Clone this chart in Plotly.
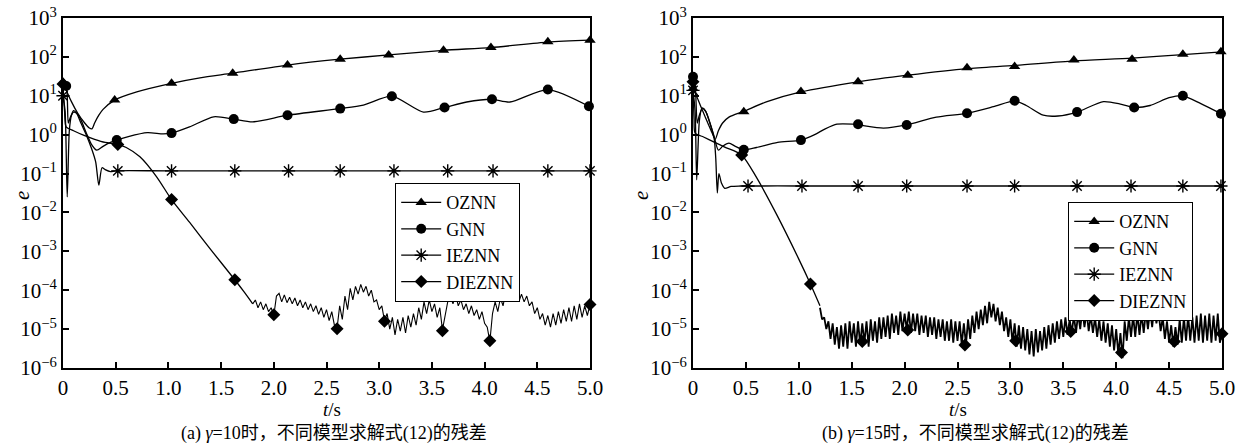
import plotly.graph_objects as go

W, H = 1247, 443

# ---------------- panel (a): gamma = 10  (values are log10(e)) ----------------
a_oznn_t = [0, 0.03, 0.08, 0.14, 0.2, 0.25, 0.275, 0.3, 0.34, 0.38, 0.49, 0.7, 1.03, 1.3, 1.61, 2.13, 2.63, 3.09, 3.61, 4.06, 4.6, 5.0]
a_oznn_v = [1.35, 1.15, 0.85, 0.55, 0.32, 0.17, 0.15, 0.3, 0.5, 0.65, 0.89, 1.1, 1.32, 1.46, 1.58, 1.79, 1.94, 2.05, 2.17, 2.24, 2.38, 2.43]
a_oznn_mt = [0, 0.49, 1.03, 1.61, 2.13, 2.63, 3.09, 3.61, 4.06, 4.60, 5.0]
a_oznn_mv = [1.35, 0.89, 1.32, 1.58, 1.79, 1.94, 2.05, 2.17, 2.24, 2.39, 2.43]

a_gnn_t = [0, 0.03, 0.05, 0.07, 0.1, 0.13, 0.17, 0.22, 0.27, 0.32, 0.38, 0.45, 0.51, 0.62, 0.8, 0.95, 1.03, 1.2, 1.43, 1.62, 1.8, 2.13, 2.63, 2.85, 3.12, 3.42, 3.62, 3.83, 4.07, 4.24, 4.6, 4.99]
a_gnn_v = [1.3, 1.25, 0.3, 0.45, 0.58, 0.55, 0.38, 0.05, -0.25, -0.4, -0.3, -0.2, -0.14, -0.05, 0.05, 0.02, 0.04, 0.2, 0.46, 0.4, 0.33, 0.5, 0.67, 0.76, 0.99, 0.58, 0.70, 0.84, 0.91, 0.84, 1.16, 0.73]
a_gnn_mt = [0.03, 0.51, 1.03, 1.62, 2.13, 2.63, 3.12, 3.62, 4.07, 4.6, 4.99]
a_gnn_mv = [1.25, -0.14, 0.04, 0.4, 0.5, 0.67, 0.99, 0.70, 0.91, 1.16, 0.73]

a_ie_t = [0, 0.02, 0.04, 0.06, 0.08, 0.1, 0.13, 0.17, 0.22, 0.27, 0.31, 0.34, 0.37, 0.4, 0.45, 0.5, 1.0, 5.0]
a_ie_v = [1.0, 0.6, -1.6, 0.1, 0.5, 0.62, 0.55, 0.3, 0.0, -0.35, -0.7, -1.3, -0.85, -0.9, -0.95, -0.93, -0.93, -0.93]
a_ie_mt = [0, 0.52, 1.03, 1.63, 2.14, 2.63, 3.14, 3.65, 4.08, 4.60, 5.0]
a_ie_mv = [1.0, -0.93, -0.93, -0.93, -0.93, -0.93, -0.93, -0.93, -0.93, -0.93, -0.93]

a_die_t = [0, 0.015, 0.03, 0.1, 0.2, 0.3, 0.4, 0.52, 0.6, 0.73, 0.89, 1.03, 1.2, 1.4, 1.63, 1.72, 1.8]
a_die_v = [1.3, 0.6, 0.2, 0.1, -0.02, -0.12, -0.2, -0.25, -0.33, -0.57, -1.09, -1.67, -2.25, -2.95, -3.73, -4.05, -4.35]
a_die_tail_t0, a_die_tail_dt = 1.8, 0.025
a_die_tail_v = [
    -4.35, -4.25, -4.45, -4.3, -4.5, -4.35, -4.55, -4.45,
    -4.65, -4.15, -4.08, -4.3, -4.12, -4.32, -4.18, -4.35,
    -4.2, -4.4, -4.25, -4.45, -4.3, -4.5, -4.35, -4.55,
    -4.4, -4.62, -4.45, -4.7, -4.5, -4.78, -4.55, -4.9,
    -4.98, -4.4, -4.75, -4.15, -4.5, -3.95, -4.25, -3.9,
    -4.1, -3.85, -4.05, -3.9, -4.15, -4.0, -4.3, -4.25,
    -4.5, -4.4, -4.78, -4.6, -5.0, -4.7, -5.15, -4.75,
    -5.05, -4.7, -5.1, -4.65, -4.95, -4.6, -4.9, -4.45,
    -4.75, -4.3, -4.6, -4.25, -4.55, -4.35, -4.7, -4.45,
    -5.02, -4.6, -4.3, -4.15, -4.35, -4.1, -4.4, -4.25,
    -4.5, -4.35, -4.6, -4.4, -4.65, -4.5, -4.75, -4.55,
    -4.85, -4.95, -5.32, -4.6, -4.3, -4.55, -4.2, -4.4,
    -4.05, -4.3, -4.0, -4.25, -4.05, -4.3, -4.1, -4.3,
    -4.15, -4.4, -4.3, -4.6, -4.45, -4.75, -4.6, -4.9,
    -4.65, -4.95, -4.6, -4.9, -4.55, -4.85, -4.5, -4.8,
    -4.45, -4.8, -4.4, -4.75, -4.35, -4.7, -4.4, -4.65,
    -4.37]
a_die_mt = [0, 0.52, 1.03, 1.63, 2.0, 2.6, 3.05, 3.6, 4.05, 5.0]
a_die_mv = [1.3, -0.25, -1.67, -3.73, -4.63, -4.99, -4.8, -5.04, -5.3, -4.37]

# ---------------- panel (b): gamma = 15 ----------------
b_oznn_t = [0, 0.04, 0.09, 0.14, 0.18, 0.21, 0.24, 0.28, 0.34, 0.48, 0.7, 1.02, 1.56, 2.03, 2.59, 3.04, 3.6, 4.15, 4.63, 5.0]
b_oznn_v = [1.19, 0.95, 0.62, 0.3, 0.05, -0.12, 0.1, 0.3, 0.45, 0.6, 0.85, 1.1, 1.36, 1.53, 1.7, 1.78, 1.9, 1.97, 2.06, 2.13]
b_oznn_mt = [0, 0.48, 1.02, 1.56, 2.03, 2.59, 3.04, 3.6, 4.15, 4.63, 4.99]
b_oznn_mv = [1.19, 0.59, 1.11, 1.36, 1.53, 1.72, 1.75, 1.92, 1.94, 2.07, 2.13]

b_gnn_t = [0, 0.02, 0.04, 0.06, 0.09, 0.12, 0.16, 0.2, 0.24, 0.28, 0.34, 0.4, 0.48, 0.6, 0.8, 1.02, 1.15, 1.25, 1.36, 1.51, 1.8, 2.02, 2.3, 2.59, 2.84, 3.04, 3.15, 3.31, 3.45, 3.63, 3.88, 4.05, 4.17, 4.32, 4.5, 4.63, 4.8, 4.99]
b_gnn_v = [1.49, 1.3, 0.3, 0.5, 0.68, 0.6, 0.3, -0.05, -0.4, -0.3, -0.22, -0.3, -0.39, -0.33, -0.2, -0.14, 0.0, 0.15, 0.27, 0.27, 0.17, 0.25, 0.45, 0.55, 0.72, 0.87, 0.75, 0.5, 0.48, 0.58, 0.85, 0.78, 0.70, 0.75, 0.95, 1.0, 0.8, 0.54]
b_gnn_mt = [0, 0.48, 1.02, 1.56, 2.02, 2.59, 3.04, 3.63, 4.17, 4.63, 4.99]
b_gnn_mv = [1.49, -0.39, -0.14, 0.27, 0.25, 0.55, 0.87, 0.58, 0.70, 1.0, 0.54]

b_ie_t = [0, 0.02, 0.035, 0.06, 0.085, 0.12, 0.16, 0.2, 0.215, 0.23, 0.245, 0.27, 0.3, 0.36, 0.45, 1.0, 5.0]
b_ie_v = [1.14, 0.6, -1.16, 0.35, 0.68, 0.6, 0.3, -0.1, -0.6, -1.5, -1.0, -1.25, -1.38, -1.33, -1.32, -1.32, -1.32]
b_ie_mt = [0, 0.52, 1.03, 1.56, 2.02, 2.59, 3.04, 3.63, 4.14, 4.63, 4.99]
b_ie_mv = [1.14, -1.32, -1.32, -1.32, -1.32, -1.32, -1.32, -1.32, -1.32, -1.32, -1.32]

b_die_t = [0, 0.01, 0.02, 0.1, 0.2, 0.3, 0.46, 0.6, 0.79, 1.0, 1.11, 1.2]
b_die_v = [1.36, 0.4, 0.04, -0.06, -0.19, -0.32, -0.52, -1.1, -2.05, -3.2, -3.84, -4.4]
b_die_tail_t0, b_die_tail_dt = 1.2, 0.02
b_die_tail_v = [
    -4.45, -4.75, -4.7, -5.0, -4.8, -5.25, -4.85, -5.4, -4.95, -5.5,
    -4.9, -5.45, -4.85, -5.5, -4.8, -5.35, -4.85, -5.45, -4.8, -5.4,
    -4.85, -5.35, -4.8, -5.45, -4.75, -5.3, -4.8, -5.35, -4.7, -5.25,
    -4.7, -5.2, -4.65, -5.25, -4.6, -5.1, -4.65, -5.15, -4.55, -5.05,
    -4.6, -5.0, -4.55, -5.1, -4.6, -5.05, -4.6, -5.15, -4.65, -5.1,
    -4.65, -5.2, -4.7, -5.15, -4.7, -5.25, -4.75, -5.2, -4.75, -5.3,
    -4.8, -5.3, -4.75, -5.35, -4.8, -5.3, -4.8, -5.4, -4.85, -5.4,
    -4.75, -5.25, -4.65, -5.1, -4.55, -5.0, -4.5, -4.9, -4.4, -4.85,
    -4.3, -4.7, -4.35, -4.8, -4.45, -4.9, -4.55, -5.05, -4.7, -5.2,
    -4.75, -5.35, -4.85, -5.45, -4.9, -5.5, -4.95, -5.55, -5.0, -5.65,
    -5.05, -5.7, -5.0, -5.6, -5.05, -5.55, -4.95, -5.5, -4.9, -5.4,
    -4.85, -5.35, -4.8, -5.25, -4.75, -5.2, -4.7, -5.15, -4.75, -5.1,
    -4.65, -5.1, -4.6, -5.0, -4.5, -4.95, -4.55, -5.05, -4.65, -5.1,
    -4.7, -5.2, -4.75, -5.3, -4.8, -5.35, -4.85, -5.45, -4.9, -5.55,
    -5.0, -5.65, -5.1, -5.75, -4.8, -5.3, -4.7, -5.2, -4.65, -5.2,
    -4.6, -5.15, -4.6, -5.1, -4.55, -5.0, -4.5, -4.95, -4.4, -4.85,
    -4.55, -5.05, -4.7, -5.25, -4.8, -5.35, -4.9, -5.45, -4.95, -5.4,
    -4.75, -5.35, -4.7, -5.3, -4.65, -5.3, -4.7, -5.35, -4.65, -5.3,
    -4.6, -5.35, -4.65, -5.3, -4.6, -5.35, -4.65, -5.3, -4.6, -5.35, -5.12]
b_die_mt = [0, 0.46, 1.11, 1.6, 2.03, 2.57, 3.05, 3.57, 4.05, 4.55, 5.0]
b_die_mv = [1.36, -0.52, -3.84, -5.32, -5.02, -5.41, -5.3, -5.06, -5.6, -5.32, -5.12]

x_ticks = [0, 0.5, 1.0, 1.5, 2.0, 2.5, 3.0, 3.5, 4.0, 4.5, 5.0]
x_tick_text = ["0", "0.5", "1.0", "1.5", "2.0", "2.5", "3.0", "3.5", "4.0", "4.5", "5.0"]
y_exps = [3, 2, 1, 0, -1, -2, -3, -4, -5, -6]
names = ["OZNN", "GNN", "IEZNN", "DIEZNN"]

# ---------------- styles ----------------
SERIF = "Liberation Serif"
CAPFONT = "Liberation Serif, Noto Sans CJK SC"
LW = 1.3
SYMS = {
    "OZNN": dict(symbol="triangle-up", size=10, color="black"),
    "GNN": dict(symbol="circle", size=10, color="black"),
    "IEZNN": dict(symbol="asterisk-open", size=11, color="black", line=dict(color="black", width=1.4)),
    "DIEZNN": dict(symbol="diamond", size=10, color="black"),
}


def pw(vals):
    return [10 ** v for v in vals]


fig = go.Figure()


def add_panel(xa, ya, leg, series, tail_width):
    for name, (lt, lv, mt, mv, tail) in series.items():
        fig.add_trace(go.Scatter(x=lt, y=pw(lv), mode="lines", xaxis=xa, yaxis=ya,
                                 line=dict(color="black", width=LW, shape="spline", smoothing=0.7),
                                 showlegend=False, hoverinfo="skip"))
        if tail is not None:
            t0, dt, tv = tail
            tt = [round(t0 + dt * i, 4) for i in range(len(tv))]
            fig.add_trace(go.Scatter(x=tt, y=pw(tv), mode="lines", xaxis=xa, yaxis=ya,
                                     line=dict(color="black", width=tail_width),
                                     showlegend=False, hoverinfo="skip"))
        fig.add_trace(go.Scatter(x=mt, y=pw(mv), mode="markers", xaxis=xa, yaxis=ya,
                                 marker=SYMS[name], cliponaxis=False,
                                 showlegend=False, hoverinfo="skip"))
        fig.add_trace(go.Scatter(x=[None], y=[None], mode="lines+markers", xaxis=xa, yaxis=ya,
                                 line=dict(color="black", width=LW), marker=SYMS[name],
                                 name=name, legend=leg, showlegend=True))


add_panel("x", "y", "legend", {
    "OZNN": (a_oznn_t, a_oznn_v, a_oznn_mt, a_oznn_mv, None),
    "GNN": (a_gnn_t, a_gnn_v, a_gnn_mt, a_gnn_mv, None),
    "IEZNN": (a_ie_t, a_ie_v, a_ie_mt, a_ie_mv, None),
    "DIEZNN": (a_die_t, a_die_v, a_die_mt, a_die_mv, (a_die_tail_t0, a_die_tail_dt, a_die_tail_v)),
}, 1.1)
add_panel("x2", "y2", "legend2", {
    "OZNN": (b_oznn_t, b_oznn_v, b_oznn_mt, b_oznn_mv, None),
    "GNN": (b_gnn_t, b_gnn_v, b_gnn_mt, b_gnn_mv, None),
    "IEZNN": (b_ie_t, b_ie_v, b_ie_mt, b_ie_mv, None),
    "DIEZNN": (b_die_t, b_die_v, b_die_mt, b_die_mv, (b_die_tail_t0, b_die_tail_dt, b_die_tail_v)),
}, 1.8)

tickfont = dict(family=SERIF, size=21, color="black")
y_text = ["10<sup>%s</sup>" % (str(k) if k >= 0 else "\u2212" + str(-k)) for k in y_exps]


def xax(domain, anchor):
    return dict(domain=domain, anchor=anchor, range=[0, 5], tickvals=x_ticks, ticktext=x_tick_text,
                ticks="inside", ticklen=6, tickwidth=1.5, tickcolor="black",
                showline=True, linewidth=2, linecolor="black", mirror=True, automargin=False,
                showgrid=False, zeroline=False, tickfont=tickfont)


def yax(anchor):
    return dict(domain=[1 - 368 / H, 1 - 18 / H], anchor=anchor, type="log", range=[-6, 3],
                tickvals=[10 ** k for k in y_exps], ticktext=y_text,
                ticks="inside", ticklen=6, tickwidth=1.5, tickcolor="black",
                showline=True, linewidth=2, linecolor="black", mirror=True, automargin=False,
                showgrid=False, zeroline=False, tickfont=tickfont)


legfont = dict(family=SERIF, size=18, color="black")


def legend(px, py):
    return dict(x=px / W, y=1 - py / H, xanchor="left", yanchor="top", bgcolor="white",
                bordercolor="black", borderwidth=1.2, font=legfont, tracegroupgap=0,
                itemwidth=40)


annotations = []
for cx, tag, g in [(334, "(a)", "10"), (975, "(b)", "15")]:
    annotations.append(dict(x=cx / W, y=1 - 433 / H, xref="paper", yref="paper", showarrow=False,
                            xanchor="center", yanchor="middle",
                            text="%s <i>\u03b3</i>=%s时，不同模型求解式(12)的残差" % (tag, g),
                            font=dict(family=CAPFONT, size=18, color="black")))
for cx in [332, 958]:
    annotations.append(dict(x=cx / W, y=1 - 409 / H, xref="paper", yref="paper", showarrow=False,
                            xanchor="center", yanchor="middle",
                            text="<i>t</i>/s", font=dict(family=SERIF, size=19, color="black")))
for cx in [22, 641]:
    annotations.append(dict(x=cx / W, y=1 - 196 / H, xref="paper", yref="paper", showarrow=False,
                            xanchor="center", yanchor="middle",
                            text="<i>e</i>", textangle=-90,
                            font=dict(family=SERIF, size=21, color="black")))

fig.update_layout(
    template="none",
    font=dict(family=SERIF, size=20, color="black"),
    width=W, height=H, margin=dict(l=0, r=0, t=0, b=0, pad=0),
    paper_bgcolor="white", plot_bgcolor="white",
    xaxis=xax([63 / W, 590 / W], "y"), yaxis=yax("x"),
    xaxis2=xax([693 / W, 1222 / W], "y2"), yaxis2=yax("x2"),
    legend=legend(395, 183), legend2=legend(1068, 202),
    annotations=annotations, showlegend=True,
)

fig.write_html("out.html")
